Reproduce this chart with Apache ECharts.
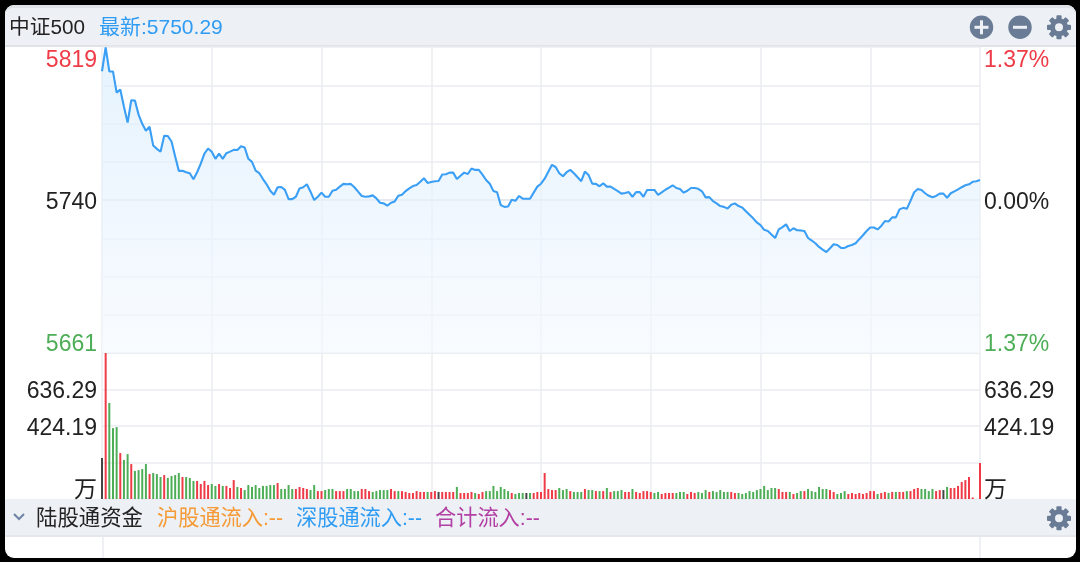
<!DOCTYPE html>
<html>
<head>
<meta charset="utf-8">
<script src="https://cdn.jsdelivr.net/npm/echarts@6/dist/echarts.min.js"></script>
<style>
html,body{margin:0;padding:0;background:#000;width:1080px;height:562px;overflow:hidden}
#paper{position:absolute;left:5px;top:5px;width:1071px;height:553px;background:#fff;border-radius:9px}
#chart{position:absolute;left:0;top:0;width:1080px;height:562px}
</style>
</head>
<body>
<div id="paper"></div>
<div id="chart"></div>
<script>
const priceValues = [
5806.2,5818.5,5806.1,5806.1,5795.2,5796.8,5788.0,5779.8,5791.3,5791.1,
5783.9,5779.2,5775.6,5777.7,5768.0,5766.3,5764.8,5773.0,5772.9,5770.1,
5762.4,5755.0,5755.1,5754.3,5753.8,5750.7,5754.3,5758.7,5763.9,5766.5,
5764.8,5761.2,5763.9,5761.2,5764.1,5764.9,5765.8,5765.7,5767.7,5767.0,
5761.2,5759.6,5755.1,5753.8,5750.8,5748.1,5744.8,5742.7,5746.6,5746.7,
5745.2,5740.5,5740.5,5741.7,5746.0,5746.6,5748.1,5744.3,5740.0,5741.7,
5743.8,5741.7,5741.7,5744.8,5745.3,5746.9,5748.3,5748.1,5748.3,5746.6,
5744.3,5742.1,5741.7,5741.9,5742.4,5740.9,5738.6,5738.3,5737.1,5738.6,
5739.3,5742.2,5742.7,5744.6,5746.0,5747.2,5747.7,5749.4,5751.2,5748.8,
5749.3,5749.7,5749.8,5753.1,5753.3,5754.1,5754.1,5750.8,5752.5,5754.1,
5753.4,5756.2,5755.5,5755.5,5753.1,5750.3,5748.4,5744.6,5744.0,5737.4,
5736.5,5736.7,5740.2,5739.6,5742.1,5740.7,5740.7,5740.7,5743.8,5746.9,
5748.4,5751.0,5754.6,5758.1,5757.0,5753.8,5752.2,5754.3,5755.5,5753.8,
5751.7,5749.7,5754.6,5752.9,5748.4,5748.3,5747.1,5748.6,5746.9,5746.9,
5745.7,5744.6,5743.3,5743.6,5744.1,5741.7,5744.1,5744.1,5741.7,5745.2,
5745.2,5745.2,5742.7,5744.0,5745.3,5746.4,5747.6,5746.2,5745.7,5743.8,
5744.8,5746.2,5746.2,5745.8,5744.5,5741.4,5741.5,5739.5,5738.3,5736.9,
5736.5,5735.7,5737.6,5738.3,5736.9,5736.2,5734.3,5732.4,5730.6,5728.5,
5727.1,5724.7,5724.1,5722.3,5720.5,5724.9,5726.1,5727.5,5724.1,5725.5,
5724.5,5724.4,5724.1,5720.5,5719.2,5717.8,5715.9,5714.5,5713.3,5715.2,
5717.3,5716.9,5715.4,5715.4,5716.4,5716.9,5717.8,5719.9,5721.9,5724.1,
5725.9,5725.9,5724.9,5726.7,5729.2,5729.0,5731.1,5731.1,5735.2,5736.0,
5735.5,5739.6,5744.0,5745.7,5745.2,5743.5,5742.2,5741.4,5742.1,5743.3,
5743.3,5741.2,5743.5,5744.5,5745.5,5746.6,5747.6,5748.1,5749.4,5749.7,
5750.29];

const volumeValues = [
238,848,558,412,418,267,227,261,203,163,
168,174,203,145,151,145,128,139,122,134,
139,151,128,128,122,105,105,87,105,81,
87,76,87,76,76,64,110,70,64,52,
81,70,81,64,76,76,81,81,93,58,
58,81,58,58,70,64,58,52,81,46,
46,52,58,58,46,46,46,58,58,46,
46,58,58,46,41,46,52,52,52,58,
46,46,46,41,35,35,46,41,41,41,
41,46,41,41,41,41,41,70,35,35,
35,41,35,29,41,46,46,76,46,70,
58,46,35,29,35,35,35,35,35,41,
41,151,58,52,52,64,52,58,46,41,
41,41,58,52,52,46,46,46,64,41,
46,46,52,41,41,58,41,35,46,46,
41,35,41,29,35,35,35,35,41,41,
29,41,35,41,35,52,41,46,41,52,
41,41,41,35,35,29,35,46,41,52,
58,76,52,64,64,58,41,41,41,29,
35,46,46,58,46,41,70,58,58,52,
41,29,35,46,29,35,29,35,29,35,
46,46,29,35,41,35,41,41,41,41,
46,46,58,64,58,58,46,58,46,52,
52,70,64,64,76,99,110,128,9,0,
209];

/* 1 = up (red), -1 = down (green), 0 = flat (dark) */
const volumeDirections = [
0,1,-1,-1,-1,1,-1,-1,1,-1,
-1,-1,-1,1,-1,-1,-1,1,-1,-1,
-1,-1,1,-1,-1,-1,1,1,1,1,
-1,-1,1,-1,1,1,1,-1,1,-1,
-1,-1,-1,-1,-1,-1,-1,-1,1,-1,
-1,-1,-1,1,1,1,1,-1,-1,1,
1,-1,-1,-1,1,1,1,-1,-1,-1,
-1,1,1,1,-1,-1,-1,-1,-1,1,
1,-1,1,1,1,1,1,1,1,-1,
1,1,0,1,1,1,1,-1,1,1,
1,1,-1,1,1,-1,-1,-1,-1,-1,
-1,-1,1,-1,-1,-1,0,-1,1,1,
1,1,1,1,1,-1,-1,-1,1,-1,
-1,-1,1,-1,-1,1,-1,1,-1,1,
-1,-1,-1,1,1,-1,1,1,1,1,
1,-1,-1,1,1,1,1,-1,-1,-1,
1,1,1,-1,-1,-1,1,-1,-1,-1,
-1,-1,1,1,-1,-1,-1,-1,-1,-1,
-1,-1,-1,-1,-1,1,1,1,-1,1,
-1,-1,1,-1,-1,-1,-1,-1,-1,1,
1,-1,-1,-1,1,1,1,1,1,1,
1,1,-1,1,1,-1,1,-1,1,1,
-1,1,1,1,-1,-1,-1,-1,1,1,
0,-1,1,1,1,1,1,1,1,1,
1];

const priceLeftLabels  = ['5661','','','','5740','','','','5819'];
const priceRightLabels = ['1.37%','','','','0.00%','','','','1.37%'];
const volumeLeftLabels  = ['万','','424.19','636.29',''];
const volumeRightLabels = ['万','','424.19','636.29',''];

const priceMin = 5661.4, priceInterval = 5661.4 / 288, priceMax = priceMin + priceInterval * 8;
const volumeMin = 0, volumeInterval = 212.095, volumeMax = 848.38;

const RED = '#ee3b47', GREEN = '#4dae57', FLAT = '#444444', BLUE = '#3a9ff5', INK = '#222222';
const FONT = '"Liberation Sans","Noto Sans CJK SC",sans-serif';
const LINE = '#ebedf0', MID = '#dde1e6';
const ICON = '#6a7b95';

const categories = priceValues.map((_, i) => i);
const vertical = {show: true, interval: (i) => i % 30 === 0, lineStyle: {color: LINE, width: 1.5}};

function xAxisFor(gridIndex) {
  return {type: 'category', gridIndex, data: categories, boundaryGap: false,
    axisLine: {show: false}, axisTick: {show: false}, axisLabel: {show: false}, splitLine: vertical};
}
function yAxisFor(gridIndex, position, min, max, interval, labels, colorFn, split, margin, splitColors) {
  return {type: 'value', gridIndex, position, min, max, interval, scale: false,
    axisLine: {show: false}, axisTick: {show: false},
    axisLabel: {show: true, inside: false, margin, fontFamily: FONT, fontSize: 23,
      padding: [2, 0, -3, 0],
      rich: {t: {fontFamily: FONT, fontSize: 23}},
      verticalAlignMinLabel: 'bottom', verticalAlignMaxLabel: 'top',
      hideOverlap: false, showMinLabel: true, showMaxLabel: true,
      formatter: (v, i) => labels[i] ? '{t|' + labels[i] + '}' : '',
      color: colorFn},
    splitLine: split ? {show: true, lineStyle: {color: splitColors, width: 1.5}} : {show: false}};
}
function priceColor(v) { return v < 5700 ? GREEN : (v > 5780 ? RED : INK); }
function volColor() { return INK; }

function gear(cx, cy) {
  const parts = [];
  for (let i = 0; i < 8; i++) {
    parts.push({type: 'rect', x: cx, y: cy, rotation: i * Math.PI / 4,
      shape: {x: -2.6, y: -12, width: 5.2, height: 5, r: 1}, style: {fill: ICON}, silent: true});
  }
  parts.push({type: 'circle', shape: {cx, cy, r: 6.5}, style: {fill: 'none', stroke: ICON, lineWidth: 5}, silent: true});
  return parts;
}

const graphics = [
  {type: 'rect', shape: {x: 5, y: 5, width: 1071, height: 42, r: [9, 9, 0, 0]}, style: {fill: '#dfe3e8'}},
  {type: 'rect', shape: {x: 5, y: 8, width: 1071, height: 37, r: [8, 8, 0, 0]}, style: {fill: '#edf0f5'}},
  {type: 'rect', shape: {x: 5, y: 499, width: 1071, height: 38}, style: {fill: '#e4e7ec'}},
  {type: 'rect', shape: {x: 5, y: 499, width: 1071, height: 36}, style: {fill: '#edf0f5'}},
  {type: 'line', shape: {x1: 103, y1: 537, x2: 103, y2: 558}, style: {stroke: LINE, lineWidth: 1.5}},
  {type: 'line', shape: {x1: 980, y1: 537, x2: 980, y2: 558}, style: {stroke: LINE, lineWidth: 1.5}},
  {type: 'text', x: 9, y: 28, style: {text: '中证500', fill: INK, font: '20.7px ' + FONT, verticalAlign: 'middle'}},
  {type: 'text', x: 99, y: 28, style: {text: '最新:5750.29', fill: '#2f9cf4', font: '21px ' + FONT, verticalAlign: 'middle'}},
  {type: 'text', x: 36, y: 519, style: {text: '陆股通资金', fill: INK, font: '21.4px ' + FONT, verticalAlign: 'middle'}},
  {type: 'text', x: 157, y: 519, style: {text: '沪股通流入:--', fill: '#f59a35', font: '21.2px ' + FONT, verticalAlign: 'middle'}},
  {type: 'text', x: 296, y: 519, style: {text: '深股通流入:--', fill: '#2f9cf4', font: '21.2px ' + FONT, verticalAlign: 'middle'}},
  {type: 'text', x: 435, y: 519, style: {text: '合计流入:--', fill: '#b23fa3', font: '21.2px ' + FONT, verticalAlign: 'middle'}},
  {type: 'polyline', shape: {points: [[14, 514], [19, 519], [24, 514]]}, style: {fill: 'none', stroke: '#6f83a5', lineWidth: 2}},
  {type: 'circle', shape: {cx: 981.5, cy: 27.3, r: 11.7}, style: {fill: ICON}},
  {type: 'rect', shape: {x: 974.5, y: 25.8, width: 14, height: 3}, style: {fill: '#edf0f5'}},
  {type: 'rect', shape: {x: 980, y: 20.3, width: 3, height: 14}, style: {fill: '#edf0f5'}},
  {type: 'circle', shape: {cx: 1020, cy: 27.3, r: 11.7}, style: {fill: ICON}},
  {type: 'rect', shape: {x: 1013, y: 25.8, width: 14, height: 3}, style: {fill: '#edf0f5'}},
  ...gear(1059, 27.3),
  ...gear(1059, 518.3)
];

const chart = echarts.init(document.getElementById('chart'), null, {renderer: 'canvas'});
chart.setOption({
  animation: false,
  backgroundColor: 'transparent',
  textStyle: {fontFamily: FONT},
  graphic: graphics,
  grid: [
    {left: 102, right: 100, top: 47, height: 306},
    {left: 102, right: 100, top: 353, height: 146}
  ],
  xAxis: [xAxisFor(0), xAxisFor(1)],
  yAxis: [
    yAxisFor(0, 'left', priceMin, priceMax, priceInterval, priceLeftLabels, priceColor, true, 5,
      [LINE, LINE, LINE, LINE, MID, LINE, LINE, LINE, LINE]),
    yAxisFor(0, 'right', priceMin, priceMax, priceInterval, priceRightLabels, priceColor, false, 4),
    yAxisFor(1, 'left', volumeMin, volumeMax, volumeInterval, volumeLeftLabels, volColor, true, 5,
      [LINE, LINE, LINE, LINE, LINE]),
    yAxisFor(1, 'right', volumeMin, volumeMax, volumeInterval, volumeRightLabels, volColor, false, 4)
  ],
  series: [
    {type: 'line', name: '中证500', xAxisIndex: 0, yAxisIndex: 0, data: priceValues,
      showSymbol: false, smooth: false, clip: true,
      lineStyle: {color: BLUE, width: 2.1},
      areaStyle: {origin: 'start', color: new echarts.graphic.LinearGradient(0, 0, 0, 1, [
        {offset: 0, color: '#daedfc'}, {offset: 1, color: '#f5f9fe'}])}},
    {type: 'bar', name: '成交量', xAxisIndex: 1, yAxisIndex: 2, barWidth: 2, clip: true,
      data: volumeValues.map((v, i) => ({value: v, itemStyle: {
        color: volumeDirections[i] > 0 ? RED : (volumeDirections[i] < 0 ? GREEN : FLAT)}}))}
  ]
});
</script>
</body>
</html>
